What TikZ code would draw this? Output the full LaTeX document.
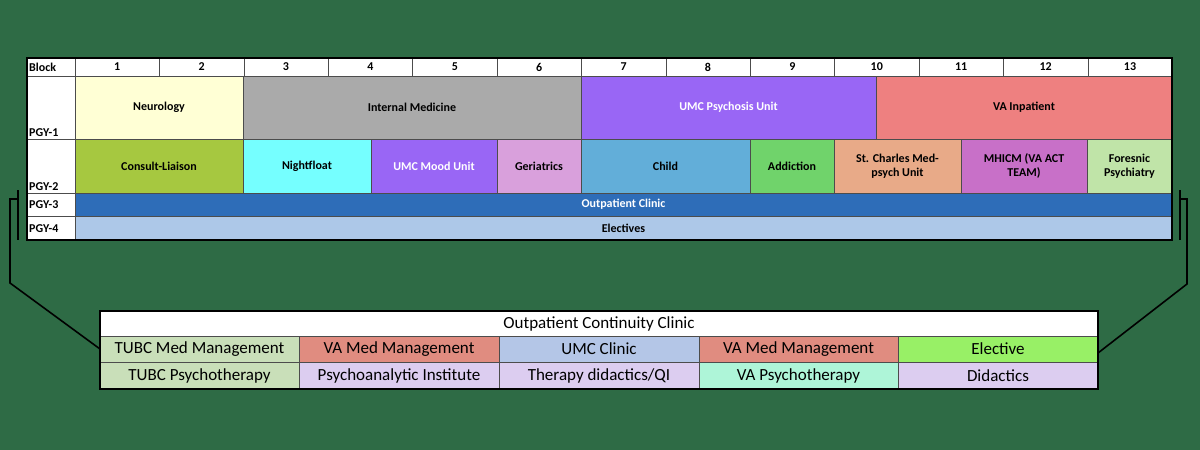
\documentclass[tikz,border=0pt]{standalone}
\usepackage{fontspec}
\setmainfont{Carlito}
\usetikzlibrary{calc}
\definecolor{bgGreen}{HTML}{2E6B45}
\definecolor{neuro}{HTML}{FFFFD5}
\definecolor{intmed}{HTML}{AAAAAA}
\definecolor{umcPurple}{HTML}{9966F5}
\definecolor{vaRed}{HTML}{EE8080}
\definecolor{clGreen}{HTML}{A6C840}
\definecolor{nightCyan}{HTML}{75FFFF}
\definecolor{geri}{HTML}{D9A0DC}
\definecolor{childBlue}{HTML}{62AED9}
\definecolor{addGreen}{HTML}{70D36B}
\definecolor{stcOrange}{HTML}{E8AA88}
\definecolor{mhicm}{HTML}{C870C8}
\definecolor{forensic}{HTML}{C0E4A8}
\definecolor{outBlue}{HTML}{2E6DB8}
\definecolor{electBlue}{HTML}{ADC8E8}
\definecolor{tubc}{HTML}{C9DFB9}
\definecolor{vaMed}{HTML}{E08C80}
\definecolor{umcClin}{HTML}{B4C6E7}
\definecolor{electGreen}{HTML}{98F066}
\definecolor{lilac}{HTML}{DCCDF0}
\definecolor{vaPsy}{HTML}{AEF5D8}

\tikzset{
  gridline/.style = {draw=black!70, line width=0.6pt},
  rotlabel/.style = {font=\bfseries\fontsize{12}{14}\selectfont, align=center, inner sep=1pt},
  cliniclabel/.style = {font=\fontsize{17}{19}\selectfont, inner sep=1pt},
  bracket/.style = {draw=black, line width=1.6pt}
}
% one filled cell with a centred label
\newcommand{\rotcell}[7]{%
  \draw[gridline, fill=#6] (#2,#3) rectangle (#4,#5);
  \node[rotlabel] (#1) at ($(#2,#3)!0.5!(#4,#5)$) {#7};}
\newcommand{\clincell}[7]{%
  \draw[gridline, fill=#6] (#2,#3) rectangle (#4,#5);
  \node[cliniclabel] (#1) at ($(#2,#3)!0.5!(#4,#5)$) {#7};}

\begin{document}
\begin{tikzpicture}[x=1pt, y=-1pt]
  \fill[bgGreen] (0,0) rectangle (1200,450);
  \useasboundingbox (0,0) rectangle (1200,450);

  % block header row
  \fill[white] (27,58) rectangle (1172,240);
  \node[rotlabel, anchor=west] (block) at (28,67) {Block};
  \foreach \b in {1,...,13} {
    \pgfmathsetmacro{\xa}{75+84.4*(\b-1)}
    \pgfmathsetmacro{\xb}{75+84.4*\b}
    \rotcell{b\b}{\xa}{58}{\xb}{76}{white}{\b}
  }

  % PGY-1
  \rotcell{neuro}{75}{76}{243}{139}{neuro}{Neurology}
  \rotcell{im}{243}{76}{581}{139}{intmed}{Internal Medicine}
  \rotcell{psy}{581}{76}{876}{139}{umcPurple}{\color{white}UMC Psychosis Unit}
  \rotcell{vainp}{876}{76}{1172}{139}{vaRed}{VA Inpatient}

  % PGY-2
  \rotcell{cl}{75}{139}{243}{193}{clGreen}{Consult-Liaison}
  \rotcell{night}{243}{139}{371}{193}{nightCyan}{Nightfloat}
  \rotcell{mood}{371}{139}{497}{193}{umcPurple}{\color{white}UMC Mood Unit}
  \rotcell{geri}{497}{139}{581}{193}{geri}{Geriatrics}
  \rotcell{child}{581}{139}{750}{193}{childBlue}{Child}
  \rotcell{addict}{750}{139}{834}{193}{addGreen}{Addiction}
  \rotcell{stc}{834}{139}{961}{193}{stcOrange}{St. Charles Med-\\psych Unit}
  \rotcell{mhicm}{961}{139}{1087}{193}{mhicm}{MHICM (VA ACT\\TEAM)}
  \rotcell{foren}{1087}{139}{1172}{193}{forensic}{Foresnic\\Psychiatry}

  % PGY-3, PGY-4
  \rotcell{outpt}{75}{193}{1172}{216}{outBlue}{\color{white}Outpatient Clinic}
  \rotcell{elect}{75}{216}{1172}{240}{electBlue}{Electives}

  \draw[gridline] (27,58) rectangle (75,240);
  \draw[gridline] (27,76) -- (75,76) (27,139) -- (75,139) (27,193) -- (75,193) (27,216) -- (75,216);
  \node[rotlabel, anchor=south west] (pgy1) at (28,138) {PGY-1};
  \node[rotlabel, anchor=south west] (pgy2) at (28,192) {PGY-2};
  \node[rotlabel, anchor=west] (pgy3) at (28,205) {PGY-3};
  \node[rotlabel, anchor=west] (pgy4) at (28,229) {PGY-4};
  \draw[black, line width=1.4pt] (27,58) rectangle (1172,240);

  % continuity clinic
  \clincell{occ}{100}{311}{1098}{336}{white}{Outpatient Continuity Clinic}
  \clincell{tubcmed}{100}{336}{299}{362}{tubc}{TUBC Med Management}
  \clincell{vamed1}{299}{336}{499}{362}{vaMed}{VA Med Management}
  \clincell{umc}{499}{336}{699}{362}{umcClin}{UMC Clinic}
  \clincell{vamed2}{699}{336}{898}{362}{vaMed}{VA Med Management}
  \clincell{elective}{898}{336}{1098}{362}{electGreen}{Elective}
  \clincell{tubcpsy}{100}{362}{299}{389}{tubc}{TUBC Psychotherapy}
  \clincell{pai}{299}{362}{499}{389}{lilac}{Psychoanalytic Institute}
  \clincell{ther}{499}{362}{699}{389}{lilac}{Therapy didactics/QI}
  \clincell{vapsy}{699}{362}{898}{389}{vaPsy}{VA Psychotherapy}
  \clincell{didact}{898}{362}{1098}{389}{lilac}{Didactics}
  \draw[black, line width=1.6pt] (100,311) rectangle (1098,389);

  % brackets
  \coordinate (lb) at (18,199);
  \coordinate (rb) at (1180,199);
  \draw[bracket] (18,190) -- (18,240);
  \draw[bracket] (1180,190) -- (1180,240);
  \draw[bracket] (lb) -- (10,199) -- (10,283) -- (100,349);
  \draw[bracket] (rb) -- (1187,199) -- (1187,284) -- (1098,353);
\end{tikzpicture}
\end{document}
